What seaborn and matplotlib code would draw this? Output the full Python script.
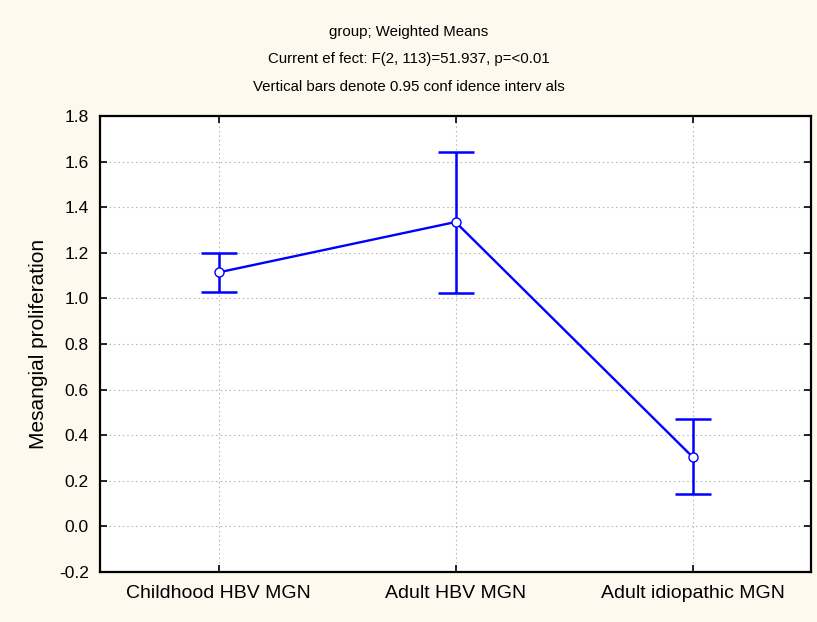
import matplotlib
matplotlib.use("Agg")
import matplotlib.pyplot as plt
import seaborn as sns
import pandas as pd

groups = ["Childhood HBV MGN", "Adult HBV MGN", "Adult idiopathic MGN"]
means = [1.114, 1.335, 0.305]
ci_low = [1.028, 1.022, 0.140]
ci_high = [1.197, 1.643, 0.470]
y_ticks = [-0.2, 0.0, 0.2, 0.4, 0.6, 0.8, 1.0, 1.2, 1.4, 1.6, 1.8]

sns.set_style("white")
plt.rcParams["font.family"] = ["Liberation Sans", "DejaVu Sans"]
plt.rcParams["text.color"] = "black"
plt.rcParams["axes.labelcolor"] = "black"

df = pd.DataFrame({"group": groups, "mean": means})

fig = plt.figure(figsize=(8.17, 6.22), dpi=100, facecolor="#FEF9EE")
ax = fig.add_axes([100 / 817, 1 - 572 / 622, 711 / 817, 456 / 622])
ax.set_facecolor("white")

# confidence interval bars
yerr = [[m - lo for m, lo in zip(means, ci_low)],
        [hi - m for m, hi in zip(means, ci_high)]]
ax.errorbar(range(len(groups)), means, yerr=yerr, fmt="none",
            ecolor="#0000FF", elinewidth=1.8, capsize=13, capthick=1.8, zorder=3)

sns.pointplot(data=df, x="group", y="mean", errorbar=None, color="#0000FF",
              markers="o", linestyles="-", ax=ax, zorder=4,
              markersize=6.5, linewidth=1.7,
              markerfacecolor="white", markeredgecolor="#0000FF", markeredgewidth=1.0)

ax.set_xlim(-0.5, 2.5)
ax.set_ylim(-0.2, 1.8)
ax.set_yticks(y_ticks)
ax.set_yticklabels([f"{v:.1f}" for v in y_ticks], fontsize=12.5)
ax.set_xticks(range(len(groups)))
ax.set_xticklabels(groups, fontsize=14)
ax.set_xlabel("")
ax.set_ylabel("Mesangial proliferation", fontsize=15, labelpad=8)

ax.grid(True, linestyle=(0, (1.5, 2.5)), color="#BBBBBB", linewidth=0.8)
ax.set_axisbelow(True)
ax.tick_params(direction="in", length=5, width=1.2, top=True, right=True,
               bottom=True, left=True, colors="black")
ax.tick_params(axis="y", pad=8)
ax.tick_params(axis="x", pad=9)
for s in ax.spines.values():
    s.set_color("black")
    s.set_linewidth(1.6)

fig.text(0.5, 1 - 32 / 622, "group; Weighted Means", ha="center", va="center", fontsize=10.8)
fig.text(0.5, 1 - 59 / 622, "Current ef fect: F(2, 113)=51.937, p=<0.01", ha="center", va="center", fontsize=10.8)
fig.text(0.5, 1 - 87 / 622, "Vertical bars denote 0.95 conf idence interv als", ha="center", va="center", fontsize=10.8)

fig.savefig("out.png", dpi=100, facecolor=fig.get_facecolor())
